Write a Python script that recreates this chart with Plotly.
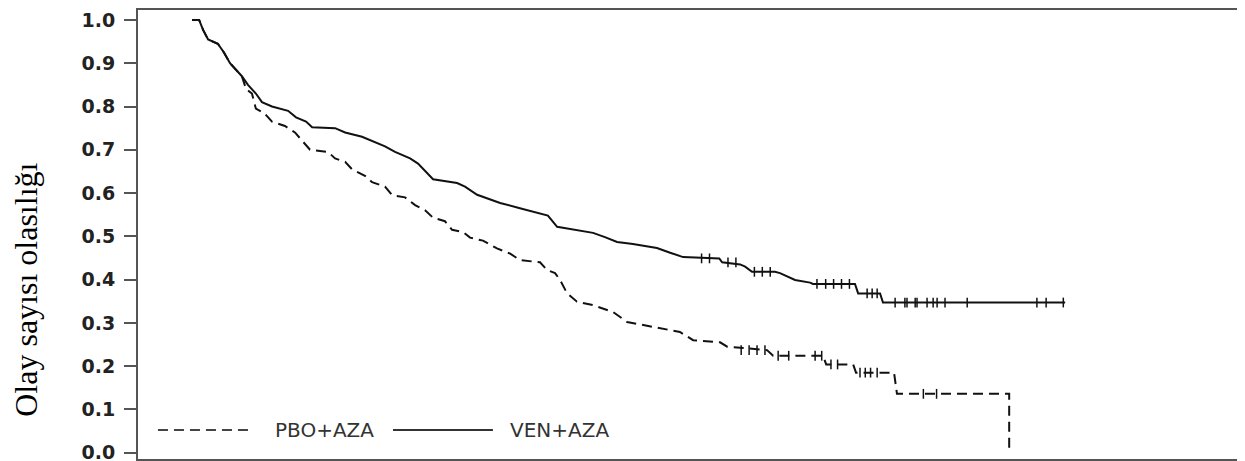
import plotly.graph_objects as go

# Kaplan-Meier curves (months, survival probability)
ven_t = [0.00, 0.27, 0.42, 0.61, 0.98, 1.21, 1.44, 1.67, 1.89, 2.12, 2.42, 2.65, 3.03, 3.64, 3.94,
         4.32, 4.55, 5.42, 5.80, 6.44, 6.82, 7.31, 7.69, 8.26, 8.56, 8.83, 9.13, 10.04, 10.34,
         10.80, 11.29, 11.67, 12.42, 12.92, 13.48, 13.83, 14.51, 15.19, 15.64, 16.10, 16.70,
         17.61, 18.11, 18.60, 19.97, 20.08, 20.76, 20.95, 21.21, 22.08, 22.27, 22.65, 22.84,
         23.41, 23.52, 25.11, 25.23, 26.06, 26.17, 33.07]
ven_s = [1.0, 1.0, 0.977, 0.955, 0.945, 0.925, 0.90, 0.885, 0.87, 0.85, 0.83, 0.81, 0.80, 0.79, 0.775,
         0.765, 0.752, 0.75, 0.74, 0.73, 0.72, 0.708, 0.695, 0.68, 0.668, 0.65, 0.632, 0.623, 0.615,
         0.596, 0.585, 0.577, 0.565, 0.557, 0.548, 0.522, 0.515, 0.508, 0.498, 0.487, 0.482,
         0.473, 0.462, 0.452, 0.449, 0.44, 0.435, 0.43, 0.418, 0.418, 0.415, 0.405, 0.399,
         0.393, 0.39, 0.39, 0.368, 0.368, 0.347, 0.347]

pbo_t = [0.00, 0.27, 0.42, 0.61, 0.98, 1.21, 1.44, 1.67, 1.89, 2.05, 2.27, 2.42, 2.73, 3.03, 3.52,
         3.90, 4.17, 4.47, 5.15, 5.42, 5.80, 6.06, 6.55, 6.82, 7.31, 7.58, 8.07, 8.45, 8.83, 9.13,
         9.58, 9.85, 10.27, 10.53, 11.02, 11.55, 12.05, 12.42, 13.18, 13.45, 13.75, 13.94, 14.20,
         14.58, 15.19, 15.95, 16.48, 17.46, 18.48, 18.98, 20.00, 20.27, 21.78, 22.01, 23.90, 24.02,
         25.04, 25.15, 26.59, 26.70, 30.95, 30.95]
pbo_s = [1.0, 1.0, 0.977, 0.955, 0.945, 0.925, 0.90, 0.885, 0.87, 0.84, 0.83, 0.795, 0.785, 0.765, 0.755,
         0.74, 0.72, 0.70, 0.695, 0.68, 0.672, 0.655, 0.64, 0.625, 0.615, 0.595, 0.59, 0.572, 0.56, 0.543,
         0.535, 0.515, 0.51, 0.497, 0.49, 0.472, 0.46, 0.445, 0.44, 0.422, 0.415, 0.399, 0.369,
         0.349, 0.341, 0.325, 0.302, 0.29, 0.279, 0.26, 0.255, 0.245, 0.237, 0.224, 0.224, 0.204,
         0.204, 0.185, 0.185, 0.136, 0.136, 0.0]

# censoring marks
ven_cens_t = [19.3, 19.6, 20.3, 20.6, 21.3, 21.6, 21.9, 23.67, 24.0, 24.3, 24.6, 24.9,
              25.57, 25.76, 25.95, 26.63, 27.0, 27.08, 27.39, 27.46, 27.84, 28.07, 28.22, 28.52,
              29.36, 32.0, 32.35, 33.0]
ven_cens_s = [0.449, 0.449, 0.44, 0.44, 0.418, 0.418, 0.418, 0.39, 0.39, 0.39, 0.39, 0.39,
              0.368, 0.368, 0.368, 0.347, 0.347, 0.347, 0.347, 0.347, 0.347, 0.347, 0.347, 0.347,
              0.347, 0.347, 0.347, 0.347]
pbo_cens_t = [20.8, 21.1, 21.4, 21.7, 22.2, 22.6, 23.6, 23.85, 24.2, 24.45,
              25.3, 25.5, 25.7, 25.95, 27.7, 28.2]
pbo_cens_s = [0.237, 0.237, 0.237, 0.237, 0.224, 0.224, 0.224, 0.224, 0.204, 0.204,
              0.185, 0.185, 0.185, 0.185, 0.136, 0.136]

y_ticks = [0.0, 0.1, 0.2, 0.3, 0.4, 0.5, 0.6, 0.7, 0.8, 0.9, 1.0]
y_labels = ["0.0", "0.1", "0.2", "0.3", "0.4", "0.5", "0.6", "0.7", "0.8", "0.9", "1.0"]
series_names = ["PBO+AZA", "VEN+AZA"]
y_title = "Olay sayısı olasılığı"

LINE = "#111111"
DASH = "10px,6px"

fig = go.Figure()
fig.add_trace(go.Scatter(x=pbo_t, y=pbo_s, mode="lines", line=dict(color=LINE, width=2, dash=DASH),
                         name=series_names[0], showlegend=False))
fig.add_trace(go.Scatter(x=ven_t, y=ven_s, mode="lines", line=dict(color=LINE, width=2),
                         name=series_names[1], showlegend=False))
fig.add_trace(go.Scatter(x=pbo_cens_t, y=pbo_cens_s, mode="markers",
                         marker=dict(symbol="line-ns", size=7, line=dict(color=LINE, width=1.5)), showlegend=False))
fig.add_trace(go.Scatter(x=ven_cens_t, y=ven_cens_s, mode="markers",
                         marker=dict(symbol="line-ns", size=7, line=dict(color=LINE, width=1.5)), showlegend=False))

# manual legend (paper coordinates)
ly = 0.0646
fig.add_shape(type="line", xref="paper", yref="paper", x0=0.0181, x1=0.1015, y0=ly, y1=ly,
              line=dict(color="#444", width=2, dash="10px,6px"))
fig.add_shape(type="line", xref="paper", yref="paper", x0=0.2312, x1=0.3218, y0=ly, y1=ly,
              line=dict(color="#333", width=2))
fig.add_annotation(xref="paper", yref="paper", x=0.1224, y=ly, xanchor="left", yanchor="middle",
                   text=series_names[0], showarrow=False,
                   font=dict(family="DejaVu Sans", size=20, color="#333"))
fig.add_annotation(xref="paper", yref="paper", x=0.3354, y=ly, xanchor="left", yanchor="middle",
                   text=series_names[1], showarrow=False,
                   font=dict(family="DejaVu Sans", size=20, color="#333"))
fig.add_annotation(xref="paper", yref="paper", x=-0.1015, y=0.377, xanchor="center", yanchor="middle",
                   text=y_title, textangle=-90, showarrow=False,
                   font=dict(family="Liberation Serif", size=32, color="#000"))

fig.update_layout(
    width=1237, height=453,
    margin=dict(l=130, r=4, t=2, b=2, autoexpand=False),
    paper_bgcolor="white", plot_bgcolor="white",
    xaxis=dict(range=[-2.045, 39.73], showticklabels=False, ticks="", showgrid=False, zeroline=False,
               showline=True, mirror=True, linecolor="#555", linewidth=2, automargin=False),
    yaxis=dict(range=[-0.0146, 1.023], tickvals=y_ticks, ticktext=y_labels, ticks="outside", ticklen=12,
               tickwidth=2, tickcolor="#555", showgrid=False, zeroline=False, ticklabelstandoff=5,
               ticklabeloverflow="allow", automargin=False,
               showline=True, mirror=True, linecolor="#555", linewidth=2,
               tickfont=dict(family="DejaVu Sans", size=19, color="#222", weight="bold")),
)

fig.write_html("out.html")
